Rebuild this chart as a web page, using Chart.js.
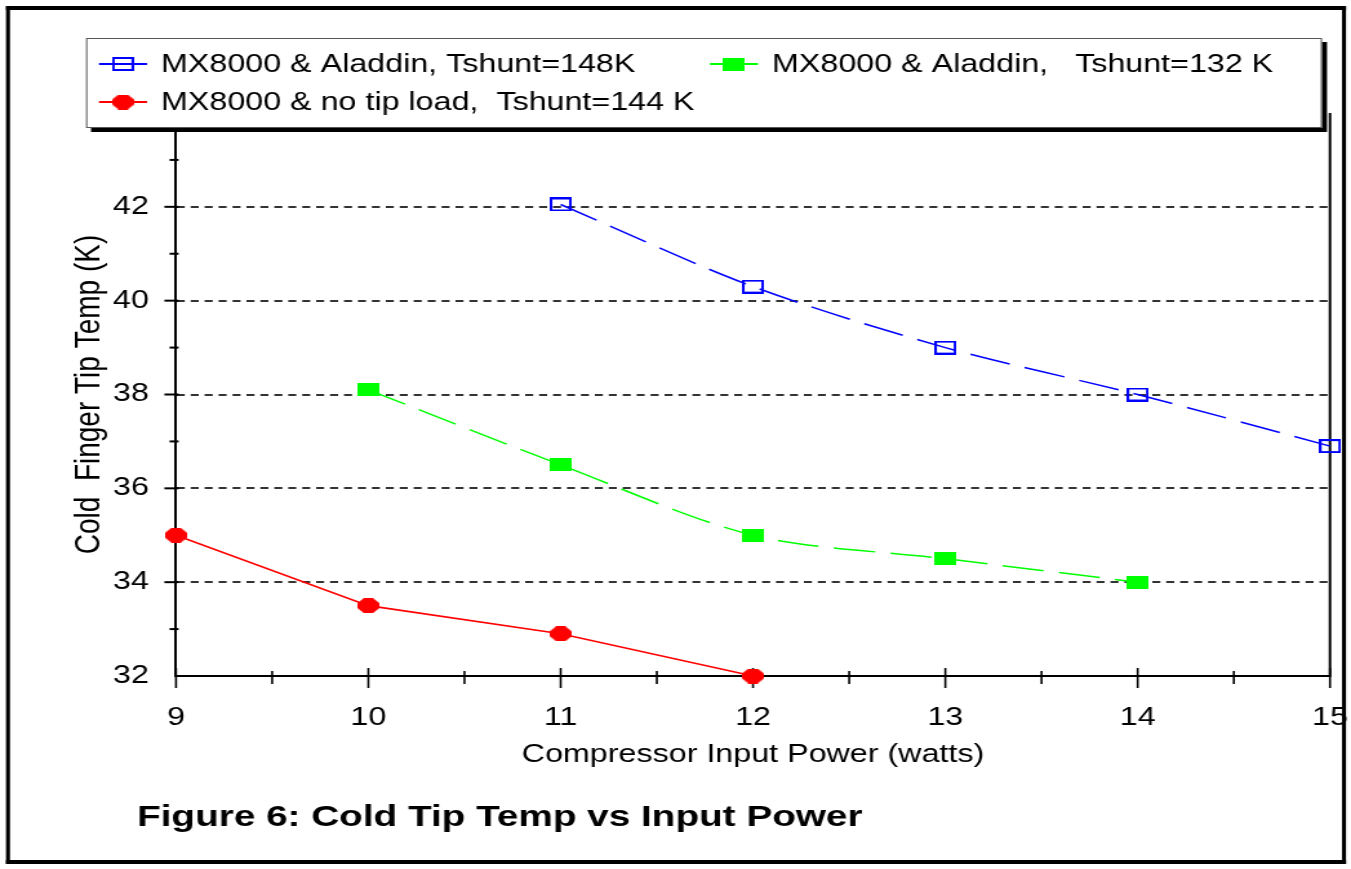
<!DOCTYPE html>
<html>
<head>
<meta charset="utf-8">
<script src="https://cdn.jsdelivr.net/npm/chart.js@4.4.0/dist/chart.umd.min.js"></script>
<style>
  html, body { margin: 0; padding: 0; background: #fff; overflow: hidden; }
  /* the original figure is stretched sideways, so draw narrow and widen it */
  #wrap { position: absolute; left: 0; top: 0; width: 1047px; height: 869px;
          transform: scaleX(1.29035); transform-origin: 0 0; }
</style>
</head>
<body>
<div id="wrap"><canvas id="chart" width="1047" height="869"></canvas></div>
<script>
var SX = 1351 / 1047;

// data
var power_148 = [11, 12, 13, 14, 15];
var temp_148 = [42.05, 40.3, 39.0, 38.0, 36.9];
var power_132 = [10, 11, 12, 13, 14];
var temp_132 = [38.1, 36.5, 35.0, 34.5, 34.0];
var power_notip = [9, 10, 11, 12];
var temp_notip = [35.0, 33.5, 32.9, 32.0];

var x_ticks = [9, 10, 11, 12, 13, 14, 15];
var y_ticks = [32, 34, 36, 38, 40, 42];
var series_labels = [
  "MX8000 & Aladdin, Tshunt=148K",
  "MX8000 & Aladdin,   Tshunt=132 K",
  "MX8000 & no tip load,  Tshunt=144 K"
];

function points(xs, ys) {
  return xs.map(function (x, i) { return { x: x, y: ys[i] }; });
}

// marker images
function makeMark(kind) {
  var c = document.createElement("canvas");
  var ctx = c.getContext("2d");
  if (kind == "open") {
    c.width = 17; c.height = 14;
    ctx.strokeStyle = "#0000ff";
    ctx.lineWidth = 2;
    ctx.strokeRect(1, 1, 15, 12);
  } else if (kind == "fill") {
    c.width = 17; c.height = 13;
    ctx.fillStyle = "#00ff00";
    ctx.fillRect(0, 0, 17, 13);
  } else {
    c.width = 17; c.height = 15;
    ctx.fillStyle = "#ff0000";
    ctx.beginPath();
    ctx.moveTo(5, 0); ctx.lineTo(12, 0); ctx.lineTo(17, 5); ctx.lineTo(17, 10);
    ctx.lineTo(12, 15); ctx.lineTo(5, 15); ctx.lineTo(0, 10); ctx.lineTo(0, 5);
    ctx.closePath();
    ctx.fill();
  }
  return c;
}
var markBlue = makeMark("open");
var markGreen = makeMark("fill");
var markRed = makeMark("oct");

// tick marks, right frame line, legend box, caption
var axisExtras = {
  id: "axisExtras",
  beforeDatasetsDraw: function (chart) {
    var ctx = chart.ctx, a = chart.chartArea;
    var xs = chart.scales.x, ys = chart.scales.y;
    ctx.save();
    ctx.strokeStyle = "#000";
    ctx.lineWidth = 2;
    ctx.beginPath();
    ctx.moveTo(a.right, a.top);
    ctx.lineTo(a.right, a.bottom + 1);
    ctx.stroke();
    ctx.lineWidth = 1.6;
    for (var v = 9; v <= 15; v += 0.5) {
      var px = xs.getPixelForValue(v);
      var major = v % 1 == 0;
      ctx.beginPath();
      ctx.moveTo(px, a.bottom - (major ? 8 : 5));
      ctx.lineTo(px, a.bottom + (major ? 12 : 8));
      ctx.stroke();
    }
    ctx.lineWidth = 2;
    for (var t = 33; t <= 43; t += 1) {
      var py = ys.getPixelForValue(t);
      var maj = t % 2 == 0;
      ctx.beginPath();
      ctx.moveTo(a.left - (maj ? 9 : 5), py);
      ctx.lineTo(a.left + 2, py);
      ctx.stroke();
    }
    ctx.restore();
  },
  afterDraw: function (chart) {
    var ctx = chart.ctx;
    ctx.save();
    // legend box with shadow
    var bx = 86 / SX, by = 38, bw = (1322 - 86) / SX, bh = 90;
    ctx.fillStyle = "#000";
    ctx.fillRect(bx + 5 / SX, by + 4, bw, bh);
    ctx.fillStyle = "#fff";
    ctx.fillRect(bx, by, bw, bh);
    ctx.strokeStyle = "#555";
    ctx.lineWidth = 1;
    ctx.strokeRect(bx + 0.5, by + 0.5, bw - 1, bh - 1);

    var items = [
      { x: 99, y: 64, color: "#0000ff", mark: markBlue, text: series_labels[0] },
      { x: 710, y: 64, color: "#00ff00", mark: markGreen, text: series_labels[1] },
      { x: 99, y: 102, color: "#ff0000", mark: markRed, text: series_labels[2] }
    ];
    ctx.font = "25px 'Liberation Sans', Arial, sans-serif";
    ctx.textBaseline = "middle";
    items.forEach(function (it) {
      var x0 = it.x / SX;
      ctx.strokeStyle = it.color;
      ctx.lineWidth = 2;
      ctx.beginPath();
      ctx.moveTo(x0, it.y);
      ctx.lineTo(x0 + 48 / SX, it.y);
      ctx.stroke();
      ctx.drawImage(it.mark, x0 + 24 / SX - it.mark.width / 2, it.y - it.mark.height / 2);
      ctx.fillStyle = "#000";
      ctx.fillText(it.text, x0 + 62 / SX, it.y + 1);
    });

    // caption
    ctx.font = "bold 30px 'Liberation Sans', Arial, sans-serif";
    ctx.textBaseline = "alphabetic";
    ctx.fillStyle = "#000";
    ctx.fillText("Figure 6: Cold Tip Temp vs Input Power", 137 / SX, 826);

    // outer frame
    ctx.fillRect(6 / SX, 6, 1340 / SX, 4);
    ctx.fillRect(6 / SX, 860, 1340 / SX, 4);
    ctx.fillRect(6 / SX, 6, 4 / SX, 858);
    ctx.fillRect(1342 / SX, 6, 4 / SX, 858);
    ctx.restore();
  }
};

Chart.defaults.font.family = "'Liberation Sans', Arial, sans-serif";
Chart.defaults.color = "#000";

var leftPad = 52;
var chart = new Chart(document.getElementById("chart"), {
  type: "line",
  data: {
    datasets: [
      {
        label: series_labels[0],
        data: points(power_148, temp_148),
        borderColor: "#0000ff",
        borderWidth: 1.5,
        borderDash: [32, 12],
        tension: 0.3,
        pointStyle: markBlue,
        pointRadius: 8,
        clip: false
      },
      {
        label: series_labels[1],
        data: points(power_132, temp_132),
        borderColor: "#00ff00",
        borderWidth: 1.5,
        borderDash: [32, 12],
        tension: 0.3,
        pointStyle: markGreen,
        pointRadius: 8,
        clip: false
      },
      {
        label: series_labels[2],
        data: points(power_notip, temp_notip),
        borderColor: "#ff0000",
        borderWidth: 1.6,
        tension: 0,
        pointStyle: markRed,
        pointRadius: 8,
        clip: false
      }
    ]
  },
  options: {
    responsive: false,
    animation: false,
    events: [],
    layout: {
      padding: { left: leftPad, top: 113, right: 1047 - 1330 / SX, bottom: 99 }
    },
    plugins: { legend: { display: false }, tooltip: { enabled: false } },
    scales: {
      x: {
        type: "linear",
        min: 9,
        max: 15,
        afterBuildTicks: function (s) {
          s.ticks = x_ticks.map(function (v) { return { value: v }; });
        },
        afterFit: function (s) {
          s.height = 94;
          s.paddingLeft = 0;
          s.paddingRight = 0;
        },
        grid: { color: "transparent", drawTicks: false },
        border: { color: "#000", width: 2 },
        ticks: { padding: 27, font: { size: 25 }, maxRotation: 0, autoSkip: false },
        title: { display: true, text: "Compressor Input Power (watts)", font: { size: 25 }, padding: 0 }
      },
      y: {
        min: 32,
        max: 44,
        afterBuildTicks: function (s) {
          s.ticks = y_ticks.map(function (v) { return { value: v }; });
        },
        afterFit: function (s) {
          s.width = 176 / SX - leftPad;
          s.paddingTop = 0;
          s.paddingBottom = 0;
        },
        grid: {
          color: function (c) { return c.tick && c.tick.value > 32 ? "#333" : "transparent"; },
          lineWidth: 2,
          drawTicks: false
        },
        border: { color: "#000", width: 2, dash: [6.2, 4.6] },
        ticks: { padding: 21, font: { size: 25 } },
        title: { display: true, text: "Cold  Finger Tip Temp (K)", font: { size: 28 }, padding: 0 }
      }
    }
  },
  plugins: [axisExtras]
});
</script>
</body>
</html>
